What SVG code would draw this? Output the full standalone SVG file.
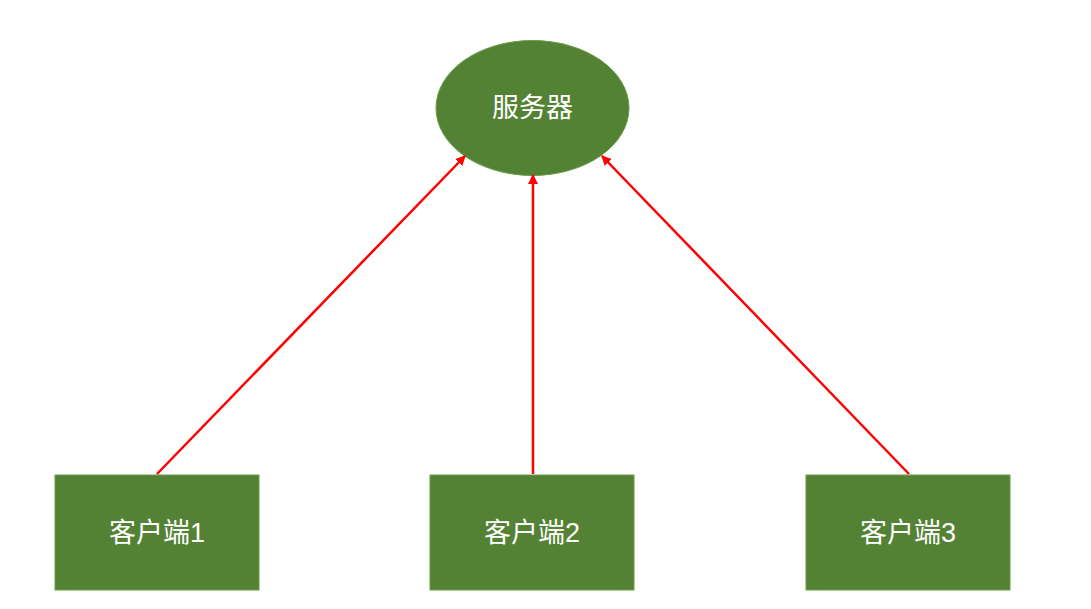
<svg xmlns="http://www.w3.org/2000/svg" width="1091" height="609" viewBox="0 0 1091 609">
<style>
.n{fill:#548235;stroke:#6a9a48;stroke-width:1}
.t{fill:#fff;font-family:"Liberation Sans","Noto Sans CJK SC",sans-serif;font-size:27px;text-anchor:middle;dominant-baseline:central}
.c{stroke:#ff0000;stroke-width:2.5;fill:none;marker-end:url(#a)}
</style>
<defs><marker id="a" viewBox="0 0 10 10" refX="9" refY="5" markerWidth="4" markerHeight="4" orient="auto" markerUnits="strokeWidth"><path d="M0,0L10,5L0,10z" fill="#ff0000"/></marker></defs>
<rect width="1091" height="609" fill="#fff"/>
<g id="server"><ellipse class="n" cx="532.5" cy="108" rx="96.5" ry="67.5"/><text class="t" x="532.5" y="108">服务器</text></g>
<g id="client1"><rect class="n" x="55" y="475" width="204" height="115"/><text class="t" x="157" y="533">客户端1</text></g>
<g id="client2"><rect class="n" x="430" y="475" width="204" height="115"/><text class="t" x="532" y="533">客户端2</text></g>
<g id="client3"><rect class="n" x="806" y="475" width="204" height="115"/><text class="t" x="908" y="533">客户端3</text></g>
<g id="connectors">
<line class="c" x1="157" y1="474" x2="465" y2="156"/>
<line class="c" x1="533" y1="474" x2="533" y2="175"/>
<line class="c" x1="909" y1="474" x2="602" y2="156"/>
</g>
</svg>
